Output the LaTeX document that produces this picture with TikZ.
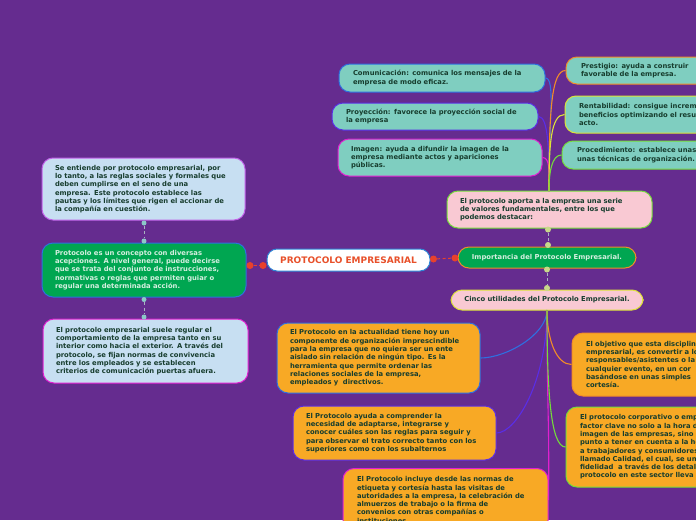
\documentclass[tikz,border=0pt]{standalone}
\usepackage{fontspec}
\setmainfont{DejaVu Sans}
\definecolor{bg}{HTML}{652C8F}
\definecolor{lblue}{HTML}{C7DFF2}
\definecolor{teal}{HTML}{7FCEC0}
\definecolor{pinkf}{HTML}{F9C9D3}
\definecolor{orf}{HTML}{F8A925}
\definecolor{grf}{HTML}{00A651}
\definecolor{txt}{HTML}{173D2E}
\definecolor{ltxt}{HTML}{D5EFE0}
\definecolor{cblue}{HTML}{2F6FE0}
\definecolor{cviolet}{HTML}{5A2EE6}
\definecolor{cmag}{HTML}{E020D0}
\definecolor{clv}{HTML}{C060E8}
\definecolor{corg}{HTML}{F28C28}
\definecolor{cyel}{HTML}{DCE238}
\definecolor{cgrn}{HTML}{74DC3A}
\definecolor{croot}{HTML}{2E86D6}
\definecolor{rtxt}{HTML}{E8502A}
\definecolor{reddot}{HTML}{E8412C}
\definecolor{gdot}{HTML}{C8D88A}
\definecolor{tdot}{HTML}{8CC8C8}
\definecolor{dline}{HTML}{A9B4C0}
\tikzset{
  box/.style={draw, rounded corners=11pt, line width=1pt, align=left, inner xsep=13pt, inner ysep=2pt,
    font=\bfseries\fontsize{6.8}{8.3}\selectfont, text=txt},
  dotr/.style={circle, fill=reddot, inner sep=0pt, minimum size=7pt},
  dotg/.style={circle, fill=gdot, inner sep=0pt, minimum size=6pt},
  dott/.style={circle, fill=tdot, inner sep=0pt, minimum size=5pt},
  link/.style={line width=1.1pt},
  dashlink/.style={dashed, line width=1pt, dash pattern=on 3pt off 2.5pt}
}
\begin{document}
\begin{tikzpicture}[x=1pt,y=-1pt]
\useasboundingbox (0,0) rectangle (696,520);
\fill[bg] (0,0) rectangle (696,520);
\clip (0,0) rectangle (696,520);

% left boxes
\node[box, fill=lblue, draw=clv, minimum width=203pt, minimum height=62pt, text width=177pt] (tl) at (143.5,189) {Se entiende por protocolo empresarial, por\\ lo tanto, a las reglas sociales y formales que\\ deben cumplirse en el seno de una\\ empresa. Este protocolo establece las\\ pautas y los límites que rigen el accionar de\\ la compañía en cuestión.};
\node[box, fill=grf, draw=cblue, text=ltxt, minimum width=204pt, minimum height=54pt, text width=178pt] (lg) at (144,270) {Protocolo es un concepto con diversas\\ acepciones. A nivel general, puede decirse\\ que se trata del conjunto de instrucciones,\\ normativas o reglas que permiten guiar o\\ regular una determinada acción.};
\node[box, fill=lblue, draw=cmag, minimum width=205pt, minimum height=64pt, text width=179pt] (lb) at (145.5,351) {El protocolo empresarial suele regular el\\ comportamiento de la empresa tanto en su\\ interior como hacia el exterior. A través del\\ protocolo, se fijan normas de convivencia\\ entre los empleados y se establecen\\ criterios de comunicación puertas afuera.};

% root and center
\node[draw=croot, fill=white, rounded corners=10pt, line width=1pt, minimum width=163pt, minimum height=22pt, inner sep=0pt,
  font=\bfseries\fontsize{9}{10}\selectfont, text=rtxt] (root) at (348.5,260) {PROTOCOLO EMPRESARIAL};
\node[box, fill=grf, draw=corg, text=ltxt, align=center, minimum width=178pt, minimum height=21pt, inner xsep=4pt] (imp) at (547,257.5) {Importancia del Protocolo Empresarial.};
\node[box, fill=pinkf, draw=cgrn, minimum width=205pt, minimum height=37pt, text width=179pt] (apo) at (549.5,209.5) {El protocolo aporta a la empresa una serie\\ de valores fundamentales, entre los que\\ podemos destacar:};
\node[box, fill=pinkf, draw=cyel, align=center, minimum width=192pt, minimum height=20pt, inner xsep=4pt] (cin) at (547,300) {Cinco utilidades del Protocolo Empresarial.};

% values (top)
\node[box, fill=teal, draw=cblue, minimum width=206pt, minimum height=28pt, text width=178pt, inner xsep=14pt] (com) at (442,78) {Comunicación: comunica los mensajes de la\\ empresa de modo eficaz.};
\node[box, fill=teal, draw=cviolet, minimum width=206pt, minimum height=27pt, text width=178pt, inner xsep=14pt] (pro) at (435,116.5) {Proyección: favorece la proyección social de\\ la empresa};
\node[box, fill=teal, draw=cmag, minimum width=204pt, minimum height=37pt, text width=178pt] (ima) at (440,157.5) {Imagen: ayuda a difundir la imagen de la\\ empresa mediante actos y apariciones\\ públicas.};
\node[box, fill=teal, draw=corg, minimum width=210pt, minimum height=27pt, text width=180pt, inner xsep=15pt] (pre) at (671,70.5) {Prestigio: ayuda a construir\\ favorable de la empresa.};
\node[box, fill=teal, draw=cyel, minimum width=210pt, minimum height=37pt, text width=182pt, inner xsep=14pt] (ren) at (670,114.5) {Rentabilidad: consigue incrementar\\ beneficios optimizando el resultado\\ acto.};
\node[box, fill=teal, draw=cgrn, minimum width=210pt, minimum height=28pt, text width=180pt, inner xsep=15pt] (prc) at (667,155) {Procedimiento: establece unas\\ unas técnicas de organización.};

% utilities (bottom)
\node[box, fill=orf, draw=cblue, minimum width=203pt, minimum height=70pt, text width=177pt] (act) at (378.5,358) {El Protocolo en la actualidad tiene hoy un\\ componente de organización imprescindible\\ para la empresa que no quiera ser un ente\\ aislado sin relación de ningún tipo. Es la\\ herramienta que permite ordenar las\\ relaciones sociales de la empresa,\\ empleados y \ directivos.};
\node[box, fill=orf, draw=cviolet, minimum width=203pt, minimum height=54pt, text width=177pt] (ayu) at (394.5,433) {El Protocolo ayuda a comprender la\\ necesidad de adaptarse, integrarse y\\ conocer cuáles son las reglas para seguir y\\ para observar el trato correcto tanto con los\\ superiores como con los subalternos};
\node[box, fill=orf, draw=cmag, minimum width=205pt, minimum height=63pt, text width=177pt, inner xsep=14pt] (inc) at (445.5,500) {El Protocolo incluye desde las normas de\\ etiqueta y cortesía hasta las visitas de\\ autoridades a la empresa, la celebración de\\ almuerzos de trabajo o la firma de\\ convenios con otras compañías o\\ instituciones.};
\node[box, fill=orf, draw=corg, minimum width=210pt, minimum height=63pt, text width=182pt, inner xsep=14pt] (obj) at (677,364.5) {El objetivo que esta disciplina\\ empresarial, es convertir a los\\ responsables/asistentes o la\\ cualquier evento, en un cor\\ basándose en unas simples\\ cortesía.};
\node[box, fill=orf, draw=cgrn, minimum width=210pt, minimum height=80pt, text width=182pt, inner xsep=14pt] (cor) at (671,447) {El protocolo corporativo o empresarial\\ factor clave no solo a la hora de\\ imagen de las empresas, sino\\ punto a tener en cuenta a la hora\\ a trabajadores y consumidores\\ llamado Calidad, el cual, se une\\ fidelidad \ a través de los detalles\\ protocolo en este sector lleva};

% dots
\node[dott] (t1) at (144,223) {};
\node[dott] (t2) at (144,241) {};
\node[dott] (t3) at (144,299.5) {};
\node[dott] (t4) at (144,317) {};
\node[dotr] (r1) at (250,265.5) {};
\node[dotr] (r2) at (263,265.5) {};
\node[dotr] (r3) at (433.5,259) {};
\node[dotr] (r4) at (455,258) {};
\node[dotg] (g1) at (548,229.5) {};
\node[dotg] (g2) at (548,245) {};
\node[dotg] (g3) at (547,269.5) {};
\node[dotg] (g4) at (547,288) {};

\draw[dashlink, draw=dline] (t1) -- (t2);
\draw[dashlink, draw=dline] (t3) -- (t4);
\draw[dashlink, draw=reddot] (r1) -- (r2);
\draw[dashlink, draw=reddot] (r3) -- (r4);
\draw[dashlink, draw=dline] (g1) -- (g2);
\draw[dashlink, draw=dline] (g3) -- (g4);

% top connectors
\coordinate (ap) at (549,191);
\draw[link, draw=cblue] (ap) .. controls +(0,-70) and +(10,0) .. (com.east);
\draw[link, draw=cviolet] (ap) .. controls +(0,-40) and +(10,0) .. (pro.east);
\draw[link, draw=cmag] (ap) .. controls +(0,-18) and +(8,0) .. (ima.east);
\draw[link, draw=corg] (ap) .. controls +(0,-80) and +(-14,0) .. (pre.west);
\draw[link, draw=cyel] (ap) .. controls +(0,-45) and +(-14,0) .. (ren.west);
\draw[link, draw=cgrn] (ap) .. controls +(0,-18) and +(-10,0) .. (prc.west);

% bottom connectors
\coordinate (cs) at (547,310);
\draw[link, draw=cblue] (cs) .. controls +(0,25) and +(25,0) .. (act.east);
\draw[link, draw=cviolet] (cs) .. controls +(0,70) and +(20,0) .. (ayu.east);
\draw[link, draw=cmag] (cs) .. controls +(0,100) and +(1,-80) .. (inc.east);
\draw[link, draw=corg] (cs) .. controls +(0,30) and +(-15,0) .. (obj.west);
\draw[link, draw=cgrn] (cs) .. controls +(0,80) and +(-15,0) .. (cor.west);
\end{tikzpicture}
\end{document}
